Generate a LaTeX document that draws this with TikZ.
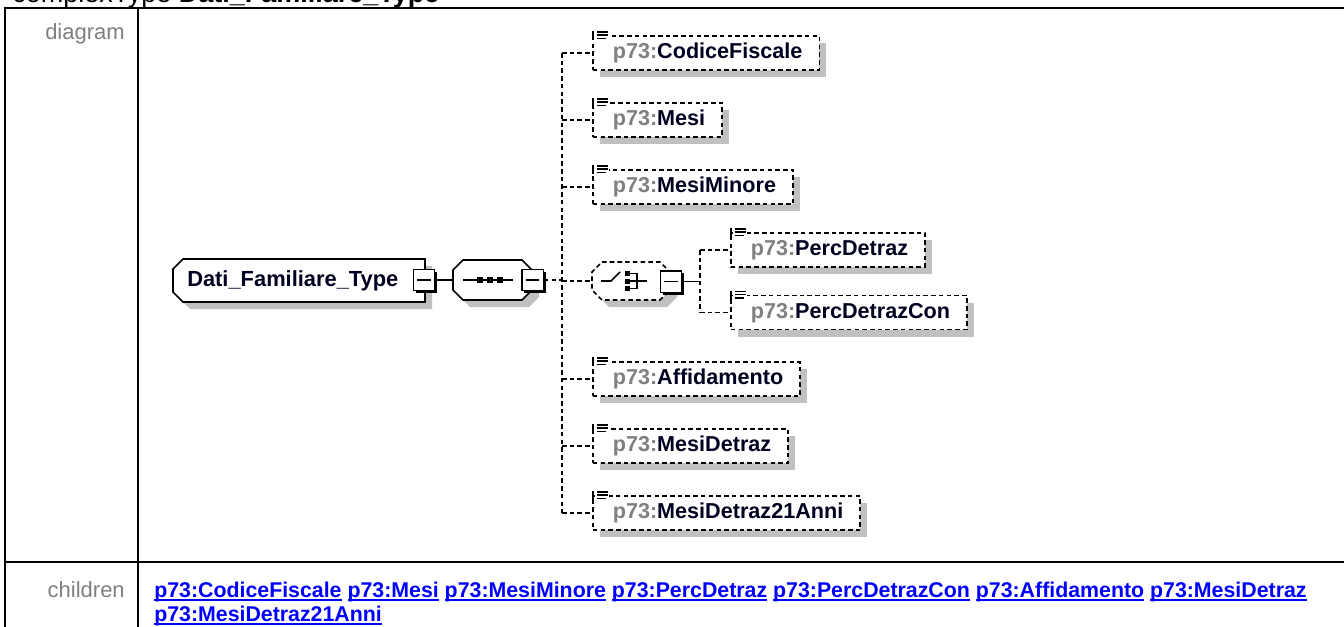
\documentclass[tikz,border=0pt]{standalone}
\usepackage{fontspec}
\setmainfont{Liberation Sans}
\usetikzlibrary{shadows,calc}
\definecolor{shgray}{HTML}{C0C0C0}
\definecolor{pfx}{HTML}{808080}
\definecolor{lnkblue}{HTML}{0000FF}
\definecolor{lblgray}{HTML}{808080}
\definecolor{namecol}{HTML}{000020}
\newcommand\elt[1]{\hspace*{15pt}{\color{pfx}p73:}{\color{namecol}#1}\hspace*{12.75pt}}
\newcommand\lnk[1]{\setbox0\hbox{#1}\rlap{\rule[-3pt]{\wd0}{1.5pt}}\box0\relax}
\newcommand\elicon[1]{%
  \fill[white] ($(#1.north west)+(3,-6)$) rectangle ++(14,10);
  \draw[line width=1.1pt] ($(#1.north west)+(5,-3.4)$) -- ++(11,0);
  \draw[line width=1.1pt] ($(#1.north west)+(5,0)$) -- ++(11,0);
  \draw[line width=1.1pt] ($(#1.north west)+(5,3.3)$) -- ++(9,0);
  \draw[line width=1.1pt] ($(#1.north west)+(1,-4)$) -- ++(0,9);
}
\begin{document}
\begin{tikzpicture}[x=0.75pt,y=-0.75pt,
  tbl/.style={line width=1.5pt},
  conn/.style={line width=1pt},
  dconn/.style={conn, dash pattern=on 3.4pt off 2.4pt},
  shdw/.style={drop shadow={shadow xshift=5.25pt, shadow yshift=-5.25pt, fill=shgray, opacity=1}},
  elem/.style={draw, line width=1.2pt, dash pattern=on 3.4pt off 2.4pt, fill=white, inner sep=0pt,
    text height=16.9pt, text depth=8.6pt, anchor=west,
    font=\fontsize{16.2pt}{19pt}\selectfont\bfseries, shdw},
  minusbox/.style={draw, line width=1pt, fill=white, minimum size=16pt, inner sep=0pt,
    drop shadow={shadow xshift=1.8pt, shadow yshift=-1.8pt, fill=black, opacity=1},
    path picture={\draw[line width=1pt] ([xshift=-5pt]path picture bounding box.center) -- ([xshift=5pt]path picture bounding box.center);}},
  lbl/.style={font=\fontsize{16.5pt}{19pt}\selectfont, text=lblgray, inner sep=0pt, anchor=base east},
  ghost/.style={inner sep=0pt, minimum width=#1*0.75pt},
  icon/.style={line width=1.2pt},
]
\useasboundingbox (0,0) rectangle (1344,627);
\clip (0,0) rectangle (1344,627);
\fill[white] (0,0) rectangle (1344,627);

% title (cut off at the top)
\node[anchor=base west, inner sep=0pt, font=\fontsize{20.25pt}{24pt}\selectfont] (title) at (12,2.5) {complexType \textbf{Dati\_Familiare\_Type}};

% table
\draw[tbl] (4,8) -- (1344,8);
\draw[tbl] (5,8) -- (5,627);
\draw[tbl] (137.5,8) -- (137.5,627);
\draw[tbl] (4,562) -- (1344,562);
\node[lbl] (diaglbl) at (125,40) {diagram};
\node[lbl] (kidslbl) at (125,597) {children};

% root
\draw[line width=1.2pt, fill=white, shdw] (183,259) -- (425,259) -- (425,302) -- (183,302) -- (173,292) -- (173,269) -- cycle;
\node[anchor=base west, inner sep=0pt, font=\fontsize{16.4pt}{19pt}\selectfont\bfseries, text=namecol] (root) at (187,286) {Dati\_Familiare\_Type};
\node[minusbox] (rootm) at (424,280) {};

% sequence
\draw[line width=1.2pt, fill=white, shdw] (463,260) -- (522,260) -- (532,270) -- (532,290) -- (522,300) -- (463,300) -- (453,290) -- (453,270) -- cycle;
\node[ghost=79, minimum height=30pt] (seq) at (492.5,280) {};
\draw[icon] (463,280) -- (513,280);
\foreach \sx in {480,490,500} \fill (\sx-3,277) rectangle ++(6,6);
\node[minusbox] (seqm) at (532.5,280) {};

% choice
\draw[line width=1.2pt, fill=white, dash pattern=on 3.4pt off 2.4pt, shdw] (602,262) -- (660,262) -- (670,272) -- (670,290) -- (660,300) -- (602,300) -- (592,290) -- (592,272) -- cycle;
\node[ghost=78, minimum height=28.5pt] (ch) at (631,281) {};
\draw[icon] (601,281) -- (611,281) -- (620,272);
\foreach \sy in {273.5,281,288.5} \fill (624.5,\sy-2.5) rectangle ++(5,5);
\draw[icon] (627,273.5) -- (637,273.5) -- (637,288.5) -- (627,288.5);
\draw[icon] (627,281) -- (647,281);
\node[minusbox] (chm) at (671,281.5) {};

% elements
\node[elem] (e1) at (592,53) {\elt{CodiceFiscale}};
\node[elem] (e2) at (592,120) {\elt{Mesi}};
\node[elem] (e3) at (592,187) {\elt{MesiMinore}};
\node[elem] (p1) at (730,250) {\elt{PercDetraz}};
\node[elem] (p2) at (730,312.5) {\elt{PercDetrazCon}};
\node[elem] (e4) at (592,379) {\elt{Affidamento}};
\node[elem] (e5) at (592,446) {\elt{MesiDetraz}};
\node[elem] (e6) at (592,513) {\elt{MesiDetraz21Anni}};
\foreach \n in {e1,e2,e3,p1,p2,e4,e5,e6} {\elicon{\n}}

% connectors
\draw[conn] (rootm.east) -- (seq.west);
\coordinate (tr) at (562,280);
\draw[dconn] (seqm.east) -- (tr);
\draw[dconn] (tr |- e1.west) -- (tr |- e6.west);
\foreach \n in {e1,e2,e3,e4,e5,e6} {\draw[dconn] (tr |- \n.west) -- (\n.west);}
\draw[dconn] (tr |- ch.west) -- (ch.west);
\coordinate (st) at (700,281.5);
\draw[conn] (chm.east) -- (st);
\draw[dconn] (st |- p1.west) -- (st |- p2.west);
\foreach \n in {p1,p2} {\draw[dconn] (st |- \n.west) -- (\n.west);}

% children links
\node[anchor=base west, inner sep=0pt, font=\fontsize{16pt}{18pt}\selectfont\bfseries, text=lnkblue] (kids1) at (154,597)
  {\lnk{p73:CodiceFiscale} \lnk{p73:Mesi} \lnk{p73:MesiMinore} \lnk{p73:PercDetraz} \lnk{p73:PercDetrazCon} \lnk{p73:Affidamento} \lnk{p73:MesiDetraz}};
\node[anchor=base west, inner sep=0pt, font=\fontsize{16pt}{18pt}\selectfont\bfseries, text=lnkblue] (kids2) at (154,621)
  {\lnk{p73:MesiDetraz21Anni}};
\end{tikzpicture}
\end{document}
